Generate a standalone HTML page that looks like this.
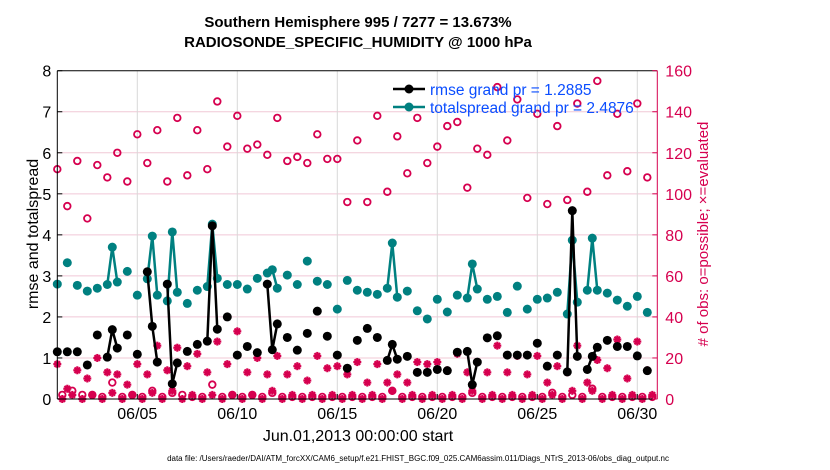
<!DOCTYPE html>
<html><head><meta charset="utf-8"><style>
body{margin:0;background:#fff;}
svg{display:block;font-family:"Liberation Sans",sans-serif;}
</style></head><body>
<svg id="chart" width="830" height="470" xmlns="http://www.w3.org/2000/svg">
<text x="358" y="27" text-anchor="middle" font-size="15" font-weight="bold">Southern Hemisphere 995 / 7277 = 13.673%</text>
<text x="358" y="47" text-anchor="middle" font-size="15" font-weight="bold">RADIOSONDE_SPECIFIC_HUMIDITY @ 1000 hPa</text>
<g id="grid"></g>
<g id="marks"></g>
<g id="axes"></g>
<text transform="translate(38,234) rotate(-90)" text-anchor="middle" font-size="16">rmse and totalspread</text>
<text transform="translate(708,234) rotate(-90)" text-anchor="middle" font-size="15" fill="#d6004f"># of obs: o=possible; ×=evaluated</text>
<text x="358" y="441" text-anchor="middle" font-size="16">Jun.01,2013 00:00:00 start</text>
<text x="418" y="461" text-anchor="middle" font-size="8">data file: /Users/raeder/DAI/ATM_forcXX/CAM6_setup/f.e21.FHIST_BGC.f09_025.CAM6assim.011/Diags_NTrS_2013-06/obs_diag_output.nc</text>
<g>
<line x1="393" y1="89" x2="425" y2="89" stroke="#000" stroke-width="2.5"/>
<circle cx="409" cy="89" r="4.5" fill="#000"/>
<text x="430" y="95" font-size="15.5" fill="#0a4dff">rmse grand pr = 1.2885</text>
<line x1="393" y1="107" x2="425" y2="107" stroke="#008080" stroke-width="2.5"/>
<circle cx="409" cy="107" r="4.5" fill="#008080"/>
<text x="430" y="113" font-size="15.5" fill="#0a4dff">totalspread grand pr = 2.4876</text>
</g>
</svg>
<script>
const obsIdx=[0,2,4,6,8,10,11,12,14,16,18,19,20,22,23,24,26,28,30,31,32,34,36,38,40,42,43,44,46,48,50,52,54,56,58,60,62,64,66,67,68,70,72,74,76,78,80,82,83,84,86,88,90,92,94,96,98,100,102,103,104,106,107,108,110,112,114,116,118];
const rmse=[1.15,1.15,1.15,0.83,1.56,1.02,1.69,1.24,1.56,1.09,3.10,1.77,0.90,2.80,0.37,0.88,1.16,1.33,1.41,4.22,1.70,2.0,1.07,1.28,1.13,2.80,1.20,1.83,1.50,1.19,1.60,2.14,1.53,1.07,0.75,1.43,1.72,1.50,0.94,1.33,0.97,1.04,0.65,0.65,0.72,0.69,1.14,1.16,0.35,0.90,1.49,1.54,1.07,1.07,1.07,1.36,0.80,1.07,0.66,4.59,1.04,0.72,1.04,1.26,1.43,1.28,1.28,1.05,0.69];
const spread=[2.80,3.32,2.77,2.63,2.70,2.79,3.70,2.85,3.11,2.53,2.93,3.97,2.53,2.39,4.07,2.60,2.33,2.65,2.74,4.26,2.94,2.79,2.79,2.68,2.94,3.07,3.15,2.70,3.02,2.79,3.36,2.87,2.79,2.19,2.89,2.65,2.60,2.55,2.70,3.80,2.48,2.63,2.15,1.95,2.43,2.12,2.53,2.46,3.29,2.68,2.43,2.50,2.11,2.75,2.19,2.43,2.46,2.60,2.07,3.87,2.36,2.65,3.92,2.65,2.58,2.41,2.26,2.50,2.11];
const possible=[112,2,94,4,116,2,88,2,114,1,108,8,120,1,106,2,129,1,115,4,131,1,106,3,137,2,109,1,131,1,112,7,145,1,123,2,138,1,122,2,124,1,119,3,137,1,116,1,118,1,115,1,129,1,117,1,117,1,96,1,126,1,96,1,138,1,101,4,128,1,110,1,137,1,115,1,123,1,133,1,135,1,103,3,122,1,119,1,152,1,126,1,146,1,98,1,139,1,95,3,133,1,97,2,144,1,101,5,155,1,109,1,139,1,111,1,144,1,108,1];
const evaluated=[17,0,5,2,14,0,10,2,20,0,13,3,12,0,7,2,17,0,12,3,26,0,14,4,25,0,16,2,22,0,13,2,28,0,17,2,33,0,13,2,20,0,12,4,21,0,12,2,16,0,9,2,21,0,15,2,16,0,12,2,18,0,8,2,17,0,8,4,12,0,8,2,18,0,17,2,18,0,14,2,22,0,13,4,18,0,13,2,26,0,13,2,21,0,12,2,21,0,8,2,16,0,13,4,26,0,8,4,19,0,15,2,29,0,10,2,28,0,14,2];
const leftTicks=[0,1,2,3,4,5,6,7,8];
const rightTicks=[0,20,40,60,80,100,120,140,160];
const dateTicks=["06/05","06/10","06/15","06/20","06/25","06/30"];
const dateDays=[5,10,15,20,25,30];

const NS="http://www.w3.org/2000/svg";
const X0=57.3,X1=657.3,Y0=399,Y1=70.7;
const x=i=>X0+(X1-X0)*i/120;
const yL=v=>Y0-(Y0-Y1)*v/8;
const yR=c=>Y0-(Y0-Y1)*c/160;
function mk(tag,attrs,parent){const e=document.createElementNS(NS,tag);for(const k in attrs)e.setAttribute(k,attrs[k]);parent.appendChild(e);return e;}
const grid=document.getElementById('grid'),marks=document.getElementById('marks'),axes=document.getElementById('axes');
mk('rect',{x:X0,y:Y1,width:X1-X0,height:Y0-Y1,fill:'#fff'},grid);
leftTicks.forEach(v=>{if(v>0&&v<8){const l=mk('line',{x1:X0,x2:X1,y1:yL(v),y2:yL(v),stroke:'#f0c8d6','stroke-width':1},grid);}});
dateDays.forEach(d=>{const l=mk('line',{x1:x(4*(d-1)),x2:x(4*(d-1)),y1:Y1,y2:Y0,stroke:'#d8d8d8','stroke-width':1},grid);});
// obs counts
function star(cx,cy,g){const r=4;[[0,r],[r,0],[r*0.7,r*0.7],[r*0.7,-r*0.7]].forEach(([dx,dy])=>mk('line',{x1:cx-dx,y1:cy-dy,x2:cx+dx,y2:cy+dy,stroke:'#d6004f','stroke-width':2.2},g));}
possible.forEach((c,i)=>{const e=mk('circle',{cx:x(i),cy:yR(c),r:3.3,fill:'none',stroke:'#d6004f','stroke-width':1.8},marks);});
evaluated.forEach((c,i)=>{const g=mk('g',{},marks);star(x(i),yR(c),g);});
function series(vals,color,name){
  let d='';
  obsIdx.forEach((idx,k)=>{const px=x(idx),py=yL(vals[k]);if(k>0&&obsIdx[k]-obsIdx[k-1]===1)d+=' L'+px+' '+py;else d+=' M'+px+' '+py;});
  const p=mk('path',{d:d,fill:'none',stroke:color,'stroke-width':2.5},marks);
  
  obsIdx.forEach((idx,k)=>{const c=mk('circle',{cx:x(idx),cy:yL(vals[k]),r:4.5,fill:color},marks);});
}
series(spread,'#008080','totalspread');
series(rmse,'#000000','rmse');
// axes
mk('line',{x1:X0,x2:X1,y1:Y1,y2:Y1,stroke:'#000','stroke-width':1},axes);
mk('line',{x1:X0,x2:X1,y1:Y0,y2:Y0,stroke:'#000','stroke-width':1},axes);
mk('line',{x1:X0,x2:X0,y1:Y1,y2:Y0,stroke:'#000','stroke-width':1},axes);
mk('line',{x1:X1,x2:X1,y1:Y1,y2:Y0,stroke:'#d6004f','stroke-width':1},axes);
leftTicks.forEach(v=>{mk('line',{x1:X0,x2:X0+5,y1:yL(v),y2:yL(v),stroke:'#000'},axes);const t=mk('text',{x:X0-6,y:yL(v)+6,'text-anchor':'end','font-size':16},axes);t.textContent=v;});
rightTicks.forEach(v=>{mk('line',{x1:X1-5,x2:X1,y1:yR(v),y2:yR(v),stroke:'#d6004f'},axes);const t=mk('text',{x:X1+8,y:yR(v)+6,'font-size':16,fill:'#d6004f'},axes);t.textContent=v;});
dateTicks.forEach((s,k)=>{const px=x(4*(dateDays[k]-1));mk('line',{x1:px,x2:px,y1:Y0,y2:Y0-5,stroke:'#000'},axes);const t=mk('text',{x:px,y:419,'text-anchor':'middle','font-size':16},axes);t.textContent=s;});
</script>
</body></html>
